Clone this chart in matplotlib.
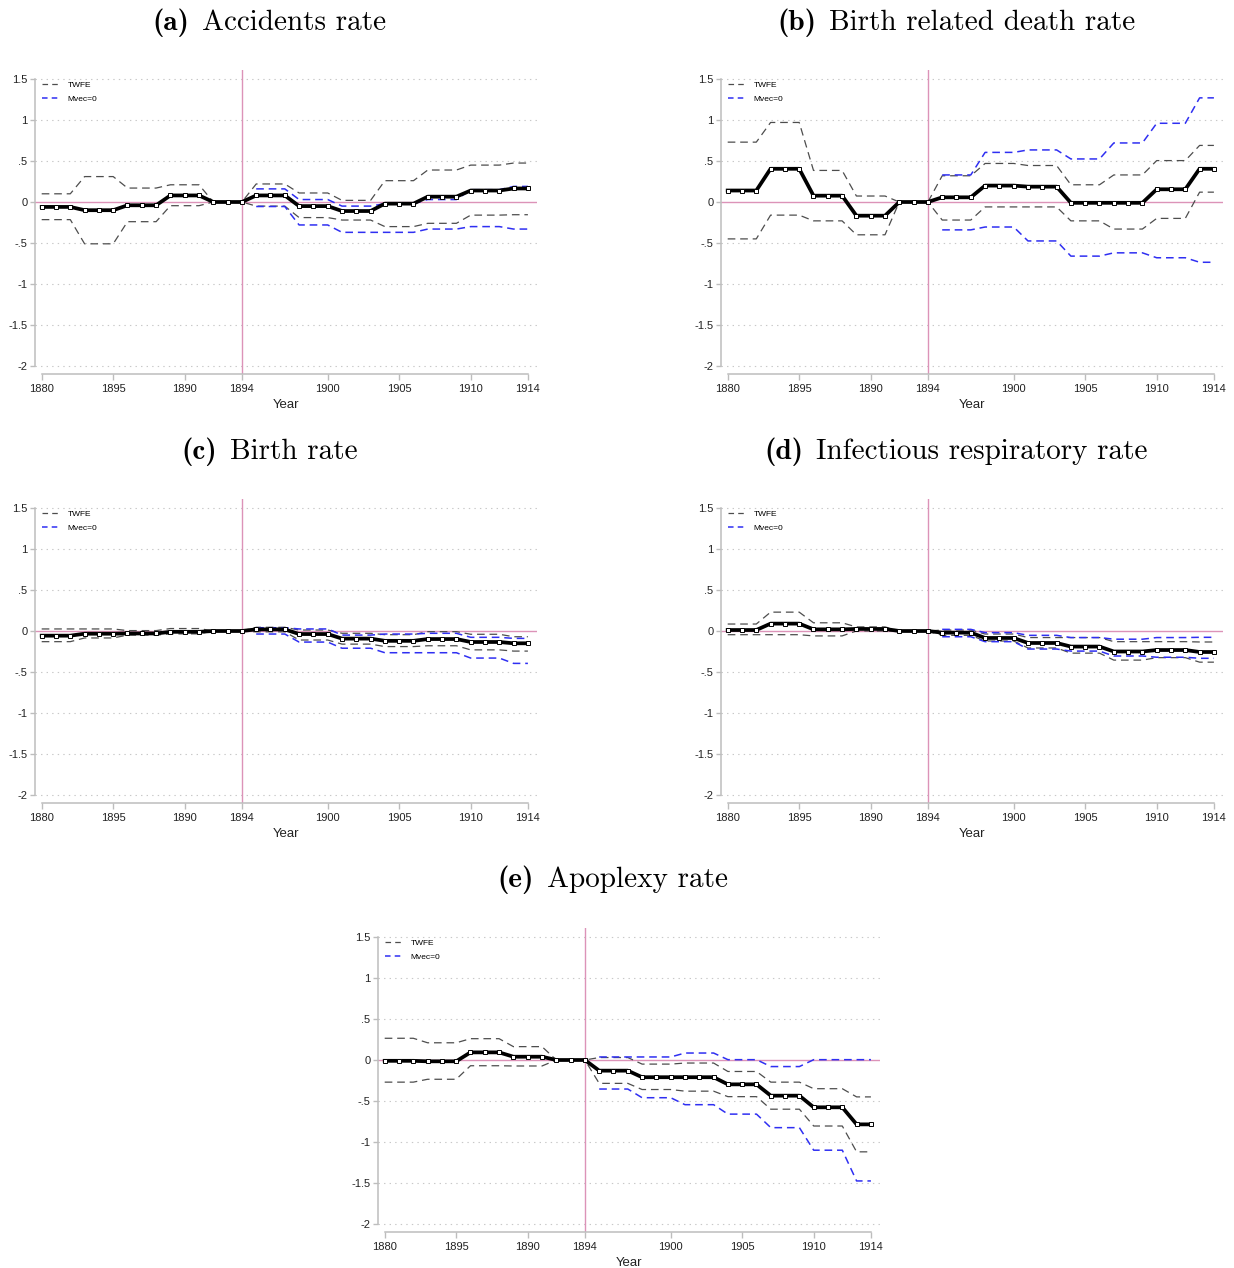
import matplotlib
matplotlib.use("Agg")
import matplotlib.pyplot as plt
from matplotlib.lines import Line2D

plt.rcParams['font.family'] = ['Liberation Sans', 'DejaVu Sans']
plt.rcParams['lines.scale_dashes'] = False

years = list(range(1880, 1915))
years_post = list(range(1895, 1915))

xticks = [1880, 1885, 1890, 1894, 1900, 1905, 1910, 1914]
xtick_labels = ['1880', '1895', '1890', '1894', '1900', '1905', '1910', '1914']
yticks = [1.5, 1, 0.5, 0, -0.5, -1, -1.5, -2]
ytick_labels = ['1.5', '1', '.5', '0', '-.5', '-1', '-1.5', '-2']

panel_tags = ['(a)', '(b)', '(c)', '(d)', '(e)']
panel_names = ['Accidents rate', 'Birth related death rate', 'Birth rate',
               'Infectious respiratory rate', 'Apoplexy rate']

# (a) Accidents rate
a_est = [-0.06, -0.06, -0.06, -0.10, -0.10, -0.10, -0.04, -0.04, -0.04, 0.08, 0.08, 0.08, 0, 0, 0,
         0.08, 0.08, 0.08, -0.05, -0.05, -0.05, -0.11, -0.11, -0.11, -0.02, -0.02, -0.02,
         0.065, 0.065, 0.065, 0.14, 0.14, 0.14, 0.165, 0.165]
a_twfe_hi = [0.10, 0.10, 0.10, 0.31, 0.31, 0.31, 0.17, 0.17, 0.17, 0.21, 0.21, 0.21, 0, 0, 0,
             0.22, 0.22, 0.22, 0.11, 0.11, 0.11, 0.02, 0.02, 0.02, 0.26, 0.26, 0.26,
             0.39, 0.39, 0.39, 0.45, 0.45, 0.45, 0.475, 0.475]
a_twfe_lo = [-0.215, -0.215, -0.215, -0.51, -0.51, -0.51, -0.24, -0.24, -0.24, -0.045, -0.045, -0.045, 0, 0, 0,
             -0.05, -0.05, -0.05, -0.19, -0.19, -0.19, -0.22, -0.22, -0.22, -0.30, -0.30, -0.30,
             -0.26, -0.26, -0.26, -0.16, -0.16, -0.16, -0.155, -0.155]
a_mv_hi = [0.16, 0.16, 0.16, 0.03, 0.03, 0.03, -0.05, -0.05, -0.05, -0.02, -0.02, -0.02,
           0.03, 0.03, 0.03, 0.15, 0.15, 0.15, 0.19, 0.19]
a_mv_lo = [-0.055, -0.055, -0.055, -0.28, -0.28, -0.28, -0.37, -0.37, -0.37, -0.37, -0.37, -0.37,
           -0.33, -0.33, -0.33, -0.30, -0.30, -0.30, -0.33, -0.33]

# (b) Birth related death rate
b_est = [0.14, 0.14, 0.14, 0.405, 0.405, 0.405, 0.077, 0.077, 0.077, -0.167, -0.167, -0.167, 0, 0, 0,
         0.057, 0.057, 0.057, 0.20, 0.20, 0.20, 0.187, 0.187, 0.187, -0.01, -0.01, -0.01,
         -0.01, -0.01, -0.01, 0.155, 0.155, 0.155, 0.405, 0.405]
b_twfe_hi = [0.73, 0.73, 0.73, 0.97, 0.97, 0.97, 0.385, 0.385, 0.385, 0.073, 0.073, 0.073, 0, 0, 0,
             0.32, 0.32, 0.32, 0.47, 0.47, 0.47, 0.445, 0.445, 0.445, 0.21, 0.21, 0.21,
             0.33, 0.33, 0.33, 0.505, 0.505, 0.505, 0.69, 0.69]
b_twfe_lo = [-0.45, -0.45, -0.45, -0.16, -0.16, -0.16, -0.23, -0.23, -0.23, -0.40, -0.40, -0.40, 0, 0, 0,
             -0.22, -0.22, -0.22, -0.06, -0.06, -0.06, -0.06, -0.06, -0.06, -0.23, -0.23, -0.23,
             -0.33, -0.33, -0.33, -0.20, -0.20, -0.20, 0.12, 0.12]
b_mv_hi = [0.33, 0.33, 0.33, 0.605, 0.605, 0.605, 0.635, 0.635, 0.635, 0.525, 0.525, 0.525,
           0.72, 0.72, 0.72, 0.96, 0.96, 0.96, 1.27, 1.27]
b_mv_lo = [-0.34, -0.34, -0.34, -0.305, -0.305, -0.305, -0.475, -0.475, -0.475, -0.66, -0.66, -0.66,
           -0.62, -0.62, -0.62, -0.68, -0.68, -0.68, -0.735, -0.735]

# (c) Birth rate
c_est = [-0.057, -0.057, -0.057, -0.033, -0.033, -0.033, -0.03, -0.03, -0.03, -0.01, -0.01, -0.01, 0, 0, 0,
         0.02, 0.02, 0.02, -0.037, -0.037, -0.037, -0.093, -0.093, -0.093, -0.12, -0.12, -0.12,
         -0.098, -0.098, -0.098, -0.134, -0.134, -0.134, -0.15, -0.15]
c_twfe_hi = [0.025, 0.025, 0.025, 0.025, 0.025, 0.025, 0.005, 0.005, 0.005, 0.03, 0.03, 0.03, 0, 0, 0,
             0.045, 0.045, 0.045, 0.012, 0.012, 0.012, -0.028, -0.028, -0.028, -0.045, -0.045, -0.045,
             -0.008, -0.008, -0.008, -0.04, -0.04, -0.04, -0.07, -0.07]
c_twfe_lo = [-0.13, -0.13, -0.13, -0.085, -0.085, -0.085, -0.05, -0.05, -0.05, -0.035, -0.035, -0.035, 0, 0, 0,
             -0.01, -0.01, -0.01, -0.11, -0.11, -0.11, -0.16, -0.16, -0.16, -0.19, -0.19, -0.19,
             -0.18, -0.18, -0.18, -0.23, -0.23, -0.23, -0.245, -0.245]
c_mv_hi = [0.04, 0.04, 0.04, 0.025, 0.025, 0.025, -0.05, -0.05, -0.05, -0.037, -0.037, -0.037,
           -0.028, -0.028, -0.028, -0.077, -0.077, -0.077, -0.09, -0.09]
c_mv_lo = [-0.037, -0.037, -0.037, -0.135, -0.135, -0.135, -0.21, -0.21, -0.21, -0.265, -0.265, -0.265,
           -0.265, -0.265, -0.265, -0.33, -0.33, -0.33, -0.395, -0.395]

# (d) Infectious respiratory rate
d_est = [0.012, 0.012, 0.012, 0.09, 0.09, 0.09, 0.02, 0.02, 0.02, 0.025, 0.025, 0.025, 0, 0, 0,
         -0.02, -0.02, -0.02, -0.085, -0.085, -0.085, -0.146, -0.146, -0.146, -0.19, -0.19, -0.19,
         -0.25, -0.25, -0.25, -0.232, -0.232, -0.232, -0.256, -0.256]
d_twfe_hi = [0.085, 0.085, 0.085, 0.23, 0.23, 0.23, 0.10, 0.10, 0.10, 0.05, 0.05, 0.05, 0, 0, 0,
             0.012, 0.012, 0.012, -0.037, -0.037, -0.037, -0.08, -0.08, -0.08, -0.08, -0.08, -0.08,
             -0.13, -0.13, -0.13, -0.13, -0.13, -0.13, -0.134, -0.134]
d_twfe_lo = [-0.045, -0.045, -0.045, -0.045, -0.045, -0.045, -0.06, -0.06, -0.06, 0.0, 0.0, 0.0, 0, 0, 0,
             -0.053, -0.053, -0.053, -0.122, -0.122, -0.122, -0.207, -0.207, -0.207, -0.27, -0.27, -0.27,
             -0.355, -0.355, -0.355, -0.325, -0.325, -0.325, -0.38, -0.38]
d_mv_hi = [0.02, 0.02, 0.02, -0.02, -0.02, -0.02, -0.053, -0.053, -0.053, -0.08, -0.08, -0.08,
           -0.10, -0.10, -0.10, -0.08, -0.08, -0.08, -0.077, -0.077]
d_mv_lo = [-0.07, -0.07, -0.07, -0.13, -0.13, -0.13, -0.22, -0.22, -0.22, -0.245, -0.245, -0.245,
           -0.305, -0.305, -0.305, -0.32, -0.32, -0.32, -0.333, -0.333]

# (e) Apoplexy rate
e_est = [-0.01, -0.01, -0.01, -0.016, -0.016, -0.016, 0.093, 0.093, 0.093, 0.04, 0.04, 0.04, 0, 0, 0,
         -0.13, -0.13, -0.13, -0.21, -0.21, -0.21, -0.21, -0.21, -0.21, -0.297, -0.297, -0.297,
         -0.435, -0.435, -0.435, -0.577, -0.577, -0.577, -0.785, -0.785]
e_twfe_hi = [0.265, 0.265, 0.265, 0.21, 0.21, 0.21, 0.26, 0.26, 0.26, 0.163, 0.163, 0.163, 0, 0, 0,
             0.03, 0.03, 0.03, -0.05, -0.05, -0.05, -0.037, -0.037, -0.037, -0.14, -0.14, -0.14,
             -0.27, -0.27, -0.27, -0.35, -0.35, -0.35, -0.45, -0.45]
e_twfe_lo = [-0.27, -0.27, -0.27, -0.235, -0.235, -0.235, -0.07, -0.07, -0.07, -0.073, -0.073, -0.073, 0, 0, 0,
             -0.285, -0.285, -0.285, -0.36, -0.36, -0.36, -0.38, -0.38, -0.38, -0.447, -0.447, -0.447,
             -0.60, -0.60, -0.60, -0.805, -0.805, -0.805, -1.12, -1.12]
e_mv_hi = [0.037, 0.037, 0.037, 0.037, 0.037, 0.037, 0.085, 0.085, 0.085, 0.004, 0.004, 0.004,
           -0.08, -0.08, -0.08, 0.004, 0.004, 0.004, 0.004, 0.004]
e_mv_lo = [-0.354, -0.354, -0.354, -0.46, -0.46, -0.46, -0.545, -0.545, -0.545, -0.66, -0.66, -0.66,
           -0.825, -0.825, -0.825, -1.10, -1.10, -1.10, -1.475, -1.475]

panels = [
    (a_est, a_twfe_hi, a_twfe_lo, a_mv_hi, a_mv_lo),
    (b_est, b_twfe_hi, b_twfe_lo, b_mv_hi, b_mv_lo),
    (c_est, c_twfe_hi, c_twfe_lo, c_mv_hi, c_mv_lo),
    (d_est, d_twfe_hi, d_twfe_lo, d_mv_hi, d_mv_lo),
    (e_est, e_twfe_hi, e_twfe_lo, e_mv_hi, e_mv_lo),
]

PINK = '#dc93b8'
GRAY = '#4d4d4d'
BLUE = '#2f2ff2'
SPINE = '#bdbdbd'

W, H = 1234, 1268
fig = plt.figure(figsize=(W / 100, H / 100), dpi=100)
renderer = fig.canvas.get_renderer()

# pixel boxes (left, top) of each panel's axes; the first panel sets the size
ax_w, ax_h = 502, 304
offsets = [(35, 70), (721, 70), (35, 499), (721, 499), (378, 928)]
title_pos = [(269, 23), (956, 23), (269, 452), (956, 452), (613, 880)]

# data limits chosen so that 1880..1914 and -2..1.5 sit inside offset spines
px_per_year = 14.3
px_per_unit = 82.0
xlim = (1880 - 6.7 / px_per_year, 1880 + (ax_w - 6.7) / px_per_year)
ylim = (-2 - 8 / px_per_unit, 1.5 + 9 / px_per_unit)


def draw_title(cx, cy, tag, name, size=21, gap=13):
    # bold tag in cmb10, name in cmr10, centred together at (cx, cy) pixels
    t1 = fig.text(0, 0, tag, family='cmb10', fontsize=size, va='center', ha='left')
    t2 = fig.text(0, 0, name, family='cmr10', fontsize=size, va='center', ha='left')
    w1 = t1.get_window_extent(renderer).width
    w2 = t2.get_window_extent(renderer).width
    x0 = cx - (w1 + gap + w2) / 2
    t1.set_position((x0 / W, 1 - cy / H))
    t2.set_position(((x0 + w1 + gap) / W, 1 - cy / H))


def draw_panel(ax, est, twfe_hi, twfe_lo, mv_hi, mv_lo):
    ax.set_xlim(*xlim)
    ax.set_ylim(*ylim)

    for y in yticks:
        if y != 0:
            ax.axhline(y, color='#c8c8c8', lw=0.8, ls=(0, (1, 3)), zorder=0)
    ax.axhline(0, color=PINK, lw=1.0, zorder=1)
    ax.axvline(1894, color=PINK, lw=1.0, zorder=1)

    ax.plot(years, twfe_hi, color=GRAY, lw=0.9, dashes=(5.5, 3.5), zorder=2)
    ax.plot(years, twfe_lo, color=GRAY, lw=0.9, dashes=(5.5, 3.5), zorder=2)
    ax.plot(years_post, mv_hi, color=BLUE, lw=1.1, dashes=(5.5, 3.5), zorder=3)
    ax.plot(years_post, mv_lo, color=BLUE, lw=1.1, dashes=(5.5, 3.5), zorder=3)
    ax.plot(years, est, color='black', lw=2.7, marker='s', markersize=3.0,
            markerfacecolor='white', markeredgecolor='black', markeredgewidth=0.7, zorder=4)

    for side in ('top', 'right'):
        ax.spines[side].set_visible(False)
    for side in ('left', 'bottom'):
        ax.spines[side].set_color(SPINE)
        ax.spines[side].set_linewidth(1.1)
    ax.spines['left'].set_bounds(-2, 1.5)
    ax.spines['bottom'].set_bounds(1880, 1914)

    ax.set_xticks(xticks)
    ax.set_xticklabels(xtick_labels)
    ax.set_yticks(yticks)
    ax.set_yticklabels(ytick_labels)
    ax.tick_params(axis='x', length=4, width=1.0, color=SPINE, labelsize=8, labelcolor='#222222', pad=3)
    ax.tick_params(axis='y', length=3.5, width=1.0, color=SPINE, labelsize=8, labelcolor='#222222', pad=2)
    ax.set_xlabel('Year', fontsize=9.5, labelpad=4, color='#222222')

    handles = [Line2D([], [], color=GRAY, lw=0.9, dashes=(4, 3)),
               Line2D([], [], color=BLUE, lw=1.1, dashes=(4, 3))]
    ax.legend(handles, ['TWFE', 'Mvec=0'], loc='upper left', bbox_to_anchor=(0.0, 0.985),
              frameon=False, fontsize=6, handlelength=2.2, handletextpad=0.9,
              labelspacing=0.75, borderpad=0.5, borderaxespad=0.3)


for (left, top), data, tag, name, (tx, ty) in zip(offsets, panels, panel_tags, panel_names, title_pos):
    rect = [left / W, (H - top - ax_h) / H, ax_w / W, ax_h / H]
    ax = fig.add_axes(rect)
    draw_panel(ax, *data)
    draw_title(tx, ty, tag, name)

fig.savefig('out.png', dpi=100)
